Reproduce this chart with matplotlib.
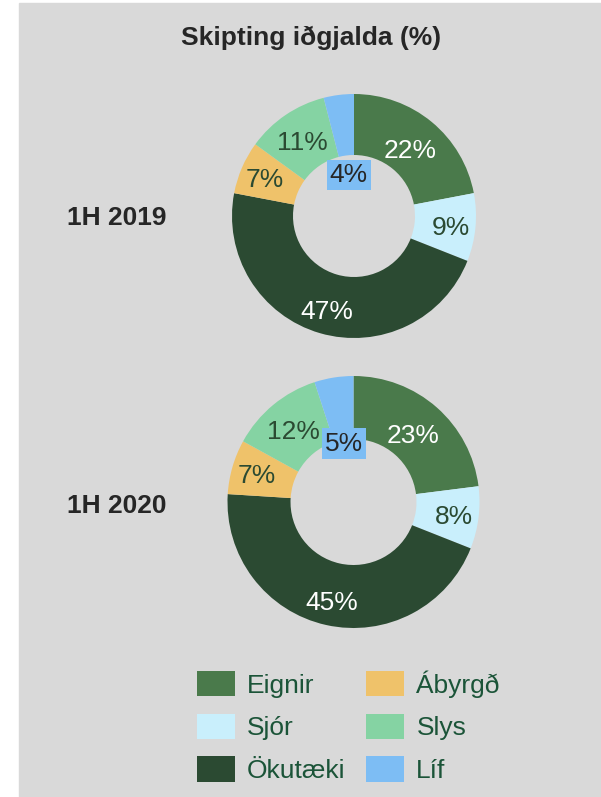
import numpy as np
import matplotlib
matplotlib.use('Agg')
import matplotlib.pyplot as plt
from matplotlib.patches import Rectangle, Patch

plt.rcParams['font.family'] = ['Liberation Sans', 'DejaVu Sans']

categories = ['Eignir', 'Sjór', 'Ökutæki', 'Ábyrgð', 'Slys', 'Líf']
colors = ['#4a7a4b', '#c9effc', '#2b4a32', '#efc26a', '#85d3a3', '#7dbdf4']
labelColors = ['white', '#2b4a32', 'white', '#2b4a32', '#2b4a32', '#262626']
periods = ['1H 2019', '1H 2020']
values2019 = [22, 9, 47, 7, 11, 4]
values2020 = [23, 8, 45, 7, 12, 5]

# label distance from centre, as fraction of outer radius (Líf label sits in the hole)
labelDist = [0.72, 0.80, 0.80, 0.80, 0.75, None]

W, H = 601, 797
fig = plt.figure(figsize=(W / 100, H / 100), dpi=100, facecolor='white')
fig.patches.append(Rectangle((19 / W, 0), 1 - 19 / W, 1 - 3 / H,
                             transform=fig.transFigure, color='#d9d9d9', zorder=-10))

fig.text(311 / W, 1 - 38 / H, 'Skipting iðgjalda (%)', ha='center', va='center',
         fontsize=19, fontweight='bold', color='#262626')

# (center x, center y, radius) in pixels, plus distance of the Líf label
donuts = [(354, 216, 122, 0.34), (353.5, 502, 126, 0.47)]
labelY = [218, 506]

for vals, period, (cx, cy, r, lifDist), ly in zip([values2019, values2020], periods, donuts, labelY):
    ax = fig.add_axes([(cx - r) / W, (H - cy - r) / H, 2 * r / W, 2 * r / H])
    ax.pie(vals, colors=colors, startangle=90, counterclock=False, radius=1,
           wedgeprops=dict(width=0.5, linewidth=0))
    ax.set_xlim(-1, 1)
    ax.set_ylim(-1, 1)
    ax.set_aspect('equal')
    ax.axis('off')

    total = float(sum(vals))
    cum = np.cumsum([0] + vals[:-1])
    for i, v in enumerate(vals):
        mid = np.deg2rad(90 - (cum[i] + v / 2) / total * 360)
        if categories[i] == 'Líf':
            ax.text(lifDist * np.cos(mid), lifDist * np.sin(mid), f'{v}%',
                    ha='center', va='center', fontsize=19, color=labelColors[i],
                    bbox=dict(boxstyle='square,pad=0.12', fc=colors[i], ec='none'))
        else:
            d = labelDist[i]
            ax.text(d * np.cos(mid), d * np.sin(mid), f'{v}%', ha='center',
                    va='center_baseline', fontsize=19, color=labelColors[i])

    fig.text(117 / W, 1 - ly / H, period, ha='center', va='center',
             fontsize=19, fontweight='bold', color='#262626')

handles = [Patch(facecolor=c, edgecolor='none', label=l) for c, l in zip(colors, categories)]
leg = fig.legend(handles=handles, ncol=2, loc='upper left',
                 bbox_to_anchor=(197 / W, 1 - 670 / H), frameon=False,
                 fontsize=19, handlelength=1.44, handleheight=1.1,
                 handletextpad=0.45, columnspacing=0.8, labelspacing=0.61,
                 borderpad=0, borderaxespad=0)
for t in leg.get_texts():
    t.set_color('#1b5438')

fig.savefig('out.png', dpi=100, facecolor=fig.get_facecolor())
